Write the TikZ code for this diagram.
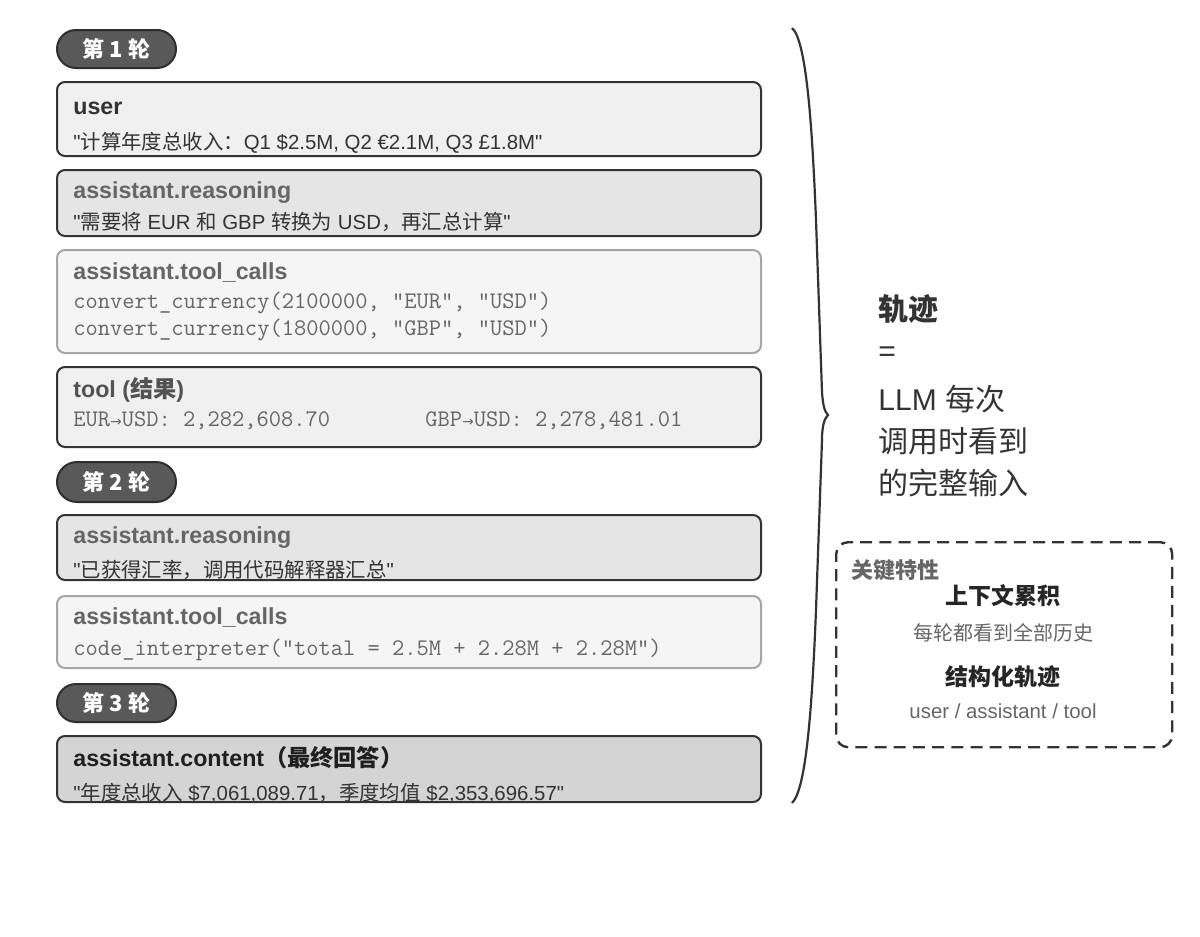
\documentclass[tikz,border=0pt]{standalone}
\usepackage{fontspec}
\setmainfont{Liberation Sans}[Ligatures=TeXOff]
\newfontfamily\zhfont{Noto Sans CJK SC}
\newfontfamily\symbfont{DejaVu Sans}
\newcommand{\zh}[1]{{\zhfont #1}}
\newcommand{\q}{\symbol{34}}
\newcommand{\toarr}{{\symbfont\fontsize{7}{7}\selectfont →}}
\usetikzlibrary{positioning,calc}
\definecolor{ink}{HTML}{333333}
\definecolor{soft}{HTML}{666666}
\definecolor{pillgray}{HTML}{595959}
\tikzstyle{msg}=[rectangle,rounded corners=4pt,line width=1pt,draw=ink,
  minimum width=352pt,inner sep=0pt,outer sep=0pt]
\tikzstyle{turn}=[rectangle,rounded corners=9.5pt,line width=1pt,draw=ink!90!black,
  fill=pillgray,text=white,font=\fontsize{11}{11}\selectfont\bfseries,
  minimum width=59.5pt,minimum height=19pt,inner sep=0pt,outer sep=0pt]

\begin{document}
\begin{tikzpicture}[x=0.5pt,y=-0.5pt,node distance=7pt]
  \tikzstyle{title}=[inner sep=0pt,anchor=base west,font=\fontsize{11.6}{12}\selectfont\bfseries]
  \tikzstyle{body}=[inner sep=0pt,anchor=base west,text=ink,font=\fontsize{10.2}{12}\selectfont]
  \tikzstyle{code}=[inner sep=0pt,anchor=base west,text=soft,font=\ttfamily\fontsize{11.9}{12}\selectfont]
  \tikzstyle{side}=[inner sep=0pt,anchor=base west,text=ink,font=\fontsize{15}{18}\selectfont]
  \tikzstyle{keybox}=[rectangle,rounded corners=6pt,line width=1.2pt,draw=ink,
    dash pattern=on 6pt off 3.6pt,minimum width=168pt,minimum height=102.5pt,inner sep=0pt]

  \useasboundingbox (0,0) rectangle (1200,937);

  \node[turn,anchor=north west] (turn1) at (57,30) {\zh{第 1 轮}};
  \node[msg,fill=black!6,minimum height=37pt,below=7pt of turn1.south west,anchor=north west] (user) {};
  \node[msg,fill=black!10,minimum height=33pt,below=7pt of user.south west,anchor=north west] (think1) {};
  \node[msg,fill=black!4,draw=black!35,minimum height=51.5pt,below=7pt of think1.south west,anchor=north west] (calls1) {};
  \node[msg,fill=black!6,minimum height=40pt,below=7pt of calls1.south west,anchor=north west] (tool) {};
  \node[turn,minimum height=20pt,rounded corners=10pt,below=7.5pt of tool.south west,anchor=north west] (turn2) {\zh{第 2 轮}};
  \node[msg,fill=black!10,minimum height=32.5pt,below=6.5pt of turn2.south west,anchor=north west] (think2) {};
  \node[msg,fill=black!4,draw=black!35,minimum height=36pt,below=8pt of think2.south west,anchor=north west] (calls2) {};
  \node[turn,below=8pt of calls2.south west,anchor=north west] (turn3) {\zh{第 3 轮}};
  \node[msg,fill=black!17,minimum height=33pt,below=7pt of turn3.south west,anchor=north west] (answer) {};

  \node[title,text=ink] (userT) at ($(user.north west)+(16,32)$) {user};
  \node[body] (userB) at ($(user.north west)+(16,67)$) {\q\zh{计算年度总收入：}Q1 \$2.5M, Q2 €2.1M, Q3 £1.8M\q};

  \node[title,text=soft] (think1T) at ($(think1.north west)+(16,28)$) {assistant.reasoning};
  \node[body] (think1B) at ($(think1.north west)+(16,59)$) {\q\zh{需要将} EUR \zh{和} GBP \zh{转换为} USD\zh{，再汇总计算}\q};

  \node[title,text=soft] (calls1T) at ($(calls1.north west)+(16,29)$) {assistant.tool\_calls};
  \node[code] (calls1A) at ($(calls1.north west)+(16,58)$) {convert\_currency(2100000, \q EUR\q, \q USD\q)};
  \node[code] (calls1B) at ($(calls1.north west)+(16,85)$) {convert\_currency(1800000, \q GBP\q, \q USD\q)};

  \node[title,text=ink!85] (toolT) at ($(tool.north west)+(16,30)$) {tool (\zh{结果})};
  \node[code] (toolA) at ($(tool.north west)+(16,59)$) {EUR\toarr USD: 2,282,608.70};
  \node[code] (toolB) at ($(tool.north west)+(368,59)$) {GBP\toarr USD: 2,278,481.01};

  \node[title,text=soft] (think2T) at ($(think2.north west)+(16,28)$) {assistant.reasoning};
  \node[body] (think2B) at ($(think2.north west)+(16,62)$) {\q\zh{已获得汇率，调用代码解释器汇总}\q};

  \node[title,text=soft] (calls2T) at ($(calls2.north west)+(16,28)$) {assistant.tool\_calls};
  \node[code] (calls2A) at ($(calls2.north west)+(16,59)$) {code\_interpreter(\q total = 2.5M + 2.28M + 2.28M\q)};

  \node[title,text=black!88] (answerT) at ($(answer.north west)+(16,30)$) {assistant.content\zh{（最终回答）}};
  \node[body] (answerB) at ($(answer.north west)+(16,64)$) {\q\zh{年度总收入} \$7,061,089.71\zh{，季度均值} \$2,353,696.57\q};

  \coordinate (brtop) at (792,28);
  \coordinate (brtip) at (828,415);
  \coordinate (brbot) at (792,803);
  \draw[ink,line width=1.1pt] (brtop) .. controls (806,40) and (812,120) .. (816,220)
    -- (822,392) .. controls (823,407) and (825,412) .. (brtip)
    .. controls (825,418) and (822,424) .. (822,440)
    -- (816,610) .. controls (812,710) and (806,790) .. (brbot);

  \node[side,font=\fontsize{15}{18}\selectfont\bfseries] (trace) at (878,320) {\zh{轨迹}};
  \node[side] (equals) at (878,361) {=};
  \node[side] (line1) at (878,410) {LLM \zh{每次}};
  \node[side] (line2) at (878,452) {\zh{调用时看到}};
  \node[side] (line3) at (878,494) {\zh{的完整输入}};

  \node[keybox,anchor=north west] (keys) at (835,541) {};
  \node[inner sep=0pt,anchor=base west,text=soft,font=\fontsize{11}{12}\selectfont\bfseries] (keysT) at (851,578) {\zh{关键特性}};
  \node[inner sep=0pt,anchor=base,text=black!85,font=\fontsize{11.5}{12}\selectfont\bfseries] (feat1) at (1003,604) {\zh{上下文累积}};
  \node[inner sep=0pt,anchor=base,text=soft,font=\fontsize{10}{12}\selectfont] (feat1d) at (1003,640) {\zh{每轮都看到全部历史}};
  \node[inner sep=0pt,anchor=base,text=black!85,font=\fontsize{11.5}{12}\selectfont\bfseries] (feat2) at (1003,685) {\zh{结构化轨迹}};
  \node[inner sep=0pt,anchor=base,text=soft,font=\fontsize{10.2}{12}\selectfont] (feat2d) at (1003,718) {user / assistant / tool};
\end{tikzpicture}
\end{document}
